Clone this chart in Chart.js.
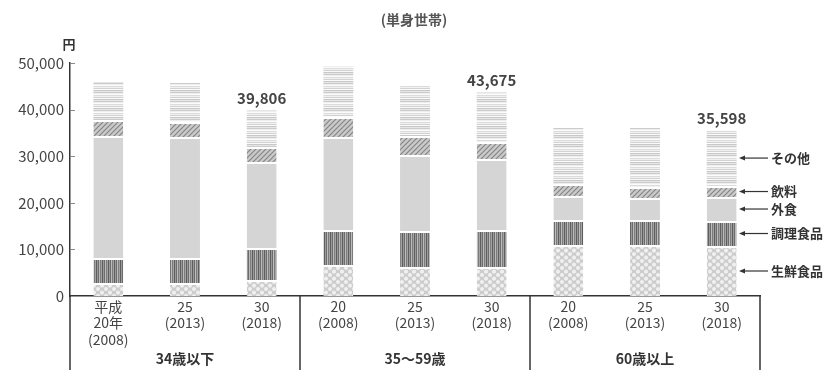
<!DOCTYPE html>
<html>
<head>
<meta charset="utf-8">
<script src="https://cdn.jsdelivr.net/npm/chart.js@4/dist/chart.umd.min.js"></script>
<style>
  html, body { margin: 0; padding: 0; background: #fff; }
  canvas { display: block; }
</style>
</head>
<body>
<canvas id="c" width="828" height="370"></canvas>
<script>
// 単身世帯の1か月当たり食料支出（円）
const categories = [
  ['平成', '20年', '(2008)'], ['25', '(2013)'], ['30', '(2018)'],
  ['20', '(2008)'], ['25', '(2013)'], ['30', '(2018)'],
  ['20', '(2008)'], ['25', '(2013)'], ['30', '(2018)']
];
const ageGroups = ['34歳以下', '35～59歳', '60歳以上'];
const seriesNames = ['生鮮食品', '調理食品', '外食', '飲料', 'その他'];

const freshFood    = [2790, 2790, 3430, 6650, 6220, 6220, 10940, 10940, 10730];
const preparedFood = [5360, 5360, 6870, 7510, 7730, 7940, 5370, 5370, 5360];
const eatingOut    = [26180, 25970, 18450, 19960, 16310, 15240, 5150, 4720, 5150];
const beverages    = [3440, 3220, 3220, 4290, 4070, 3650, 2570, 2360, 2360];
const others       = [8150, 8370, 7836, 10950, 10730, 10625, 12020, 12660, 11998];

const yTicks = [0, 10000, 20000, 30000, 40000, 50000];
// totals are printed above the latest year of each age group
const totalLabelIndexes = [2, 5, 8];

const FONT = '"Noto Sans CJK JP", "Noto Sans", sans-serif';

function makePattern(w, h, paint) {
  const c = document.createElement('canvas');
  c.width = w; c.height = h;
  const g = c.getContext('2d');
  paint(g);
  return g.createPattern(c, 'repeat');
}

// 生鮮食品: light dotted texture
const dotPattern = makePattern(8, 7, g => {
  g.fillStyle = '#cdcdcd'; g.fillRect(0, 0, 8, 7);
  g.fillStyle = '#f0f0f0';
  [[2, 2], [6, 5.5], [6, -1.5], [-2, 5.5], [10, 5.5], [2, 9]].forEach(([cx, cy]) => {
    g.beginPath(); g.arc(cx, cy, 2.0, 0, Math.PI * 2); g.fill();
  });
});
// 調理食品: vertical stripes
const vStripePattern = makePattern(6, 1, g => {
  ['#5e5e5e', '#9a9a9a', '#6c6c6c', '#bdbdbd', '#7c7c7c', '#a4a4a4'].forEach((col, i) => {
    g.fillStyle = col; g.fillRect(i, 0, 1, 1);
  });
});
// 外食: flat light grey
const flatGrey = '#d5d5d5';
// 飲料: diagonal hatching
const hatchPattern = makePattern(5, 5, g => {
  g.fillStyle = '#cacaca'; g.fillRect(0, 0, 5, 5);
  g.strokeStyle = '#858585'; g.lineWidth = 1.2;
  g.beginPath();
  g.moveTo(-1, 6); g.lineTo(6, -1);
  g.moveTo(-1, 1); g.lineTo(1, -1);
  g.moveTo(4, 6); g.lineTo(6, 4);
  g.stroke();
});
// その他: horizontal banding with pale gaps
const hStripePattern = makePattern(1, 9, g => {
  ['#c8c8c8', '#e6e6e6', '#cbcbcb', '#eeeeee', '#fbfbfb', '#dcdcdc', '#f1f1f1', '#d2d2d2', '#fafafa'].forEach((col, i) => {
    g.fillStyle = col; g.fillRect(0, i, 1, 1);
  });
});

const seriesValues = [freshFood, preparedFood, eatingOut, beverages, others];
const seriesFills = [dotPattern, vStripePattern, flatGrey, hatchPattern, hStripePattern];

const datasets = seriesNames.map((name, k) => ({
  label: name,
  data: seriesValues[k],
  backgroundColor: seriesFills[k],
  borderColor: '#ffffff',
  borderWidth: k === seriesNames.length - 1 ? 0 : { top: 2, bottom: 0, left: 0, right: 0 },
  borderSkipped: 'start',
  barPercentage: 0.39,
  categoryPercentage: 1.0
}));

function fmt(v) { return v.toLocaleString('en-US'); }

const decorations = {
  id: 'decorations',
  afterDraw(chart) {
    const { ctx, chartArea: a, scales: { x, y } } = chart;
    const H = chart.height;
    ctx.save();

    // short inward tick marks on the value axis
    ctx.strokeStyle = '#888'; ctx.lineWidth = 1;
    yTicks.forEach(v => {
      if (v === 0) return;
      const py = Math.round(y.getPixelForValue(v)) + 0.5;
      ctx.beginPath(); ctx.moveTo(a.left, py); ctx.lineTo(a.left + 5, py); ctx.stroke();
    });

    // frame separating the age groups under the axis
    ctx.strokeStyle = '#333'; ctx.lineWidth = 1.5;
    const bounds = [a.left];
    for (let gi = 1; gi < ageGroups.length; gi++) {
      bounds.push((x.getPixelForValue(gi * 3 - 1) + x.getPixelForValue(gi * 3)) / 2);
    }
    bounds.push(a.right);
    bounds.forEach(bx => {
      ctx.beginPath(); ctx.moveTo(bx, a.bottom); ctx.lineTo(bx, H); ctx.stroke();
    });

    // age group names
    ctx.fillStyle = '#333';
    ctx.font = 'bold 14px ' + FONT;
    ctx.textAlign = 'center'; ctx.textBaseline = 'middle';
    ageGroups.forEach((g, gi) => {
      ctx.fillText(g, x.getPixelForValue(gi * 3 + 1), 359);
    });

    // heading and unit
    ctx.fillStyle = '#555';
    ctx.font = 'bold 14px ' + FONT;
    ctx.fillText('(単身世帯)', 414, 20);
    ctx.fillStyle = '#333';
    ctx.font = 'bold 13px ' + FONT;
    ctx.fillText('円', a.left - 1, 44);

    // totals above the latest bars
    const topMeta = chart.getDatasetMeta(seriesNames.length - 1);
    ctx.fillStyle = '#444';
    ctx.font = 'bold 15px ' + FONT;
    totalLabelIndexes.forEach(i => {
      const total = seriesValues.reduce((s, arr) => s + arr[i], 0);
      const el = topMeta.data[i];
      ctx.fillText(fmt(total), el.x, el.y - 12);
    });

    // series names pointing at the last bar's segments
    const last = categories.length - 1;
    ctx.font = 'bold 13px ' + FONT;
    ctx.textAlign = 'left';
    ctx.fillStyle = '#333';
    ctx.strokeStyle = '#333'; ctx.lineWidth = 1.2;
    seriesNames.forEach((name, k) => {
      const el = chart.getDatasetMeta(k).data[last];
      const my = (el.y + el.base) / 2;
      const ax = 739;
      ctx.beginPath();
      ctx.moveTo(ax, my); ctx.lineTo(ax + 6, my - 2.5); ctx.lineTo(ax + 6, my + 2.5);
      ctx.closePath(); ctx.fill();
      ctx.beginPath(); ctx.moveTo(ax + 5, my); ctx.lineTo(768, my); ctx.stroke();
      ctx.fillText(name, 771, my);
    });

    ctx.restore();
  }
};

new Chart(document.getElementById('c'), {
  type: 'bar',
  data: { labels: categories, datasets },
  options: {
    responsive: false,
    animation: false,
    devicePixelRatio: 1,
    layout: { padding: { top: 63, right: 68, left: 0, bottom: 0 } },
    plugins: { legend: { display: false }, tooltip: { enabled: false }, title: { display: false } },
    scales: {
      x: {
        stacked: true,
        grid: { display: false, drawTicks: false },
        border: { display: true, color: '#333', width: 1.5 },
        ticks: {
          autoSkip: false, maxRotation: 0, minRotation: 0, padding: 3,
          color: '#444', font: { family: FONT, size: 14, lineHeight: 1.15 }
        },
        afterFit(s) { s.height = 74; }
      },
      y: {
        stacked: true, min: 0, max: 50000,
        grid: { display: false, drawTicks: false },
        border: { display: true, color: '#333', width: 1.5 },
        afterBuildTicks(s) { s.ticks = yTicks.map(v => ({ value: v })); },
        ticks: {
          padding: 6, color: '#444', font: { family: FONT, size: 15 },
          callback: v => fmt(v)
        },
        afterFit(s) { s.width = 70; }
      }
    }
  },
  plugins: [decorations]
});
</script>
</body>
</html>
